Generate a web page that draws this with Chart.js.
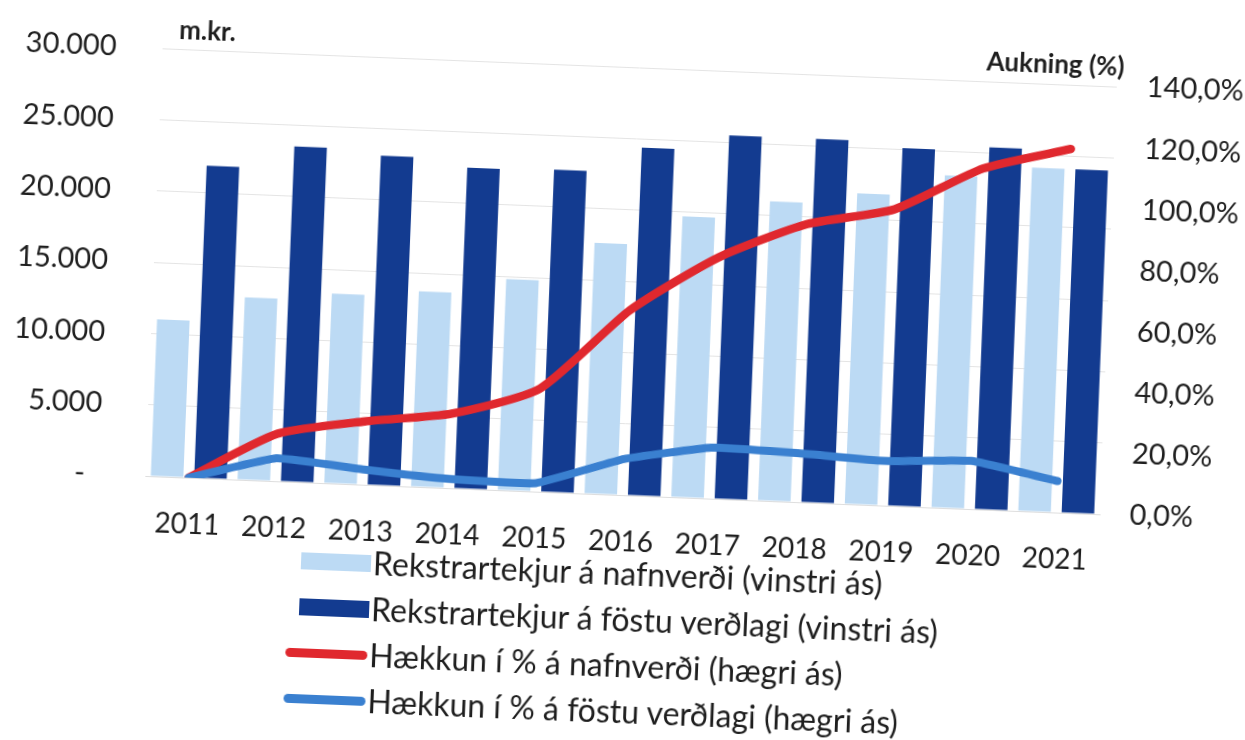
<!DOCTYPE html>
<html lang="is">
<head>
  <meta charset="UTF-8">
  <title>Rekstrartekjur 2011–2021</title>
  <style>
    body {
      margin: 0;
      background: #fff;
      font-family: Lato, "Open Sans", sans-serif;
      color: #1e1e1e;
      overflow: hidden;
    }
    /* the whole sheet sits slightly tilted */
    #sheet {
      position: relative;
      width: 1245px;
      height: 740px;
      transform: rotate(2.3deg);
      transform-origin: 622px 370px;
    }
    #chart-box {
      position: absolute;
      left: 0;
      top: 0;
      width: 1245px;
      height: 570px;
    }
    .unit {
      position: absolute;
      font-size: 26px;
      font-weight: 700;
      line-height: 30px;
    }
    #unit-left { left: 166px; top: 32px; }
    #unit-right { right: 133px; top: 31px; }
    #legend {
      position: absolute;
      left: 0;
      top: 550px;
      width: 1245px;
    }
    .legend-row {
      position: relative;
      height: 46px;
    }
    .legend-row .swatch {
      position: absolute;
      right: 866px;
    }
    .legend-row .swatch.bar {
      top: 15px;
      width: 70px;
      height: 17px;
    }
    .legend-row .swatch.line {
      top: 19px;
      width: 82px;
      height: 9px;
      border-radius: 5px;
    }
    .legend-row .text {
      position: absolute;
      left: 381px;
      top: 4px;
      font-size: 32px;
      line-height: 38px;
      white-space: nowrap;
    }
  </style>
</head>
<body>
  <div id="sheet">
    <div id="chart-box"><canvas id="revenue-chart"></canvas></div>
    <div class="unit" id="unit-left">m.kr.</div>
    <div class="unit" id="unit-right">Aukning (%)</div>
    <div id="legend"></div>
  </div>

  <script src="https://cdn.jsdelivr.net/npm/chart.js"></script>
  <script>
    // Years on the category axis
    const years = ['2011', '2012', '2013', '2014', '2015', '2016', '2017', '2018', '2019', '2020', '2021'];

    // Operating revenue, million ISK (left axis)
    const revenueNominal = [11000, 12800, 13300, 13700, 14800, 17600, 19700, 21000, 21800, 23300, 24100];
    const revenueFixed = [21900, 23500, 23100, 22500, 22600, 24400, 25500, 25500, 25100, 25400, 24100];

    // Increase since 2011, % (right axis)
    const growthNominal = [0, 15.5, 20.7, 24.4, 33.7, 60.5, 79, 91, 97, 111.5, 119];
    const growthFixed = [0, 7.5, 5, 3, 2.8, 11.8, 16.7, 16, 14.6, 15.8, 10.3];

    // Axis ranges
    const leftTicks = { min: 0, max: 30000, step: 5000 };
    const rightTicks = { min: 0, max: 140, step: 20 };

    const textColor = '#1e1e1e';
    const axisFont = { family: 'Lato', size: 28 };

    // 25000 -> "25.000", 0 -> "-"
    function formatKr(v) {
      if (v === 0) return '-\u2002';
      return String(v).replace(/\B(?=(\d{3})+(?!\d))/g, '.');
    }

    // 20 -> "20,0%"
    function formatPct(v) {
      return v.toFixed(1).replace('.', ',') + '%';
    }

    const ctx = document.getElementById('revenue-chart').getContext('2d');
    const chart = new Chart(ctx, {
      data: {
        labels: years,
        datasets: [
          {
            type: 'line',
            label: 'Hækkun í % á föstu verðlagi (hægri ás)',
            data: growthFixed,
            yAxisID: 'y1',
            borderColor: '#3a80d0',
            backgroundColor: '#3a80d0',
            borderWidth: 8,
            borderCapStyle: 'round',
            borderJoinStyle: 'round',
            pointRadius: 0,
            tension: 0.1,
            order: 0
          },
          {
            type: 'line',
            label: 'Hækkun í % á nafnverði (hægri ás)',
            data: growthNominal,
            yAxisID: 'y1',
            borderColor: '#e0282e',
            backgroundColor: '#e0282e',
            borderWidth: 8.5,
            borderCapStyle: 'round',
            borderJoinStyle: 'round',
            pointRadius: 0,
            tension: 0.2,
            order: 1
          },
          {
            type: 'bar',
            label: 'Rekstrartekjur á nafnverði (vinstri ás)',
            data: revenueNominal,
            yAxisID: 'y',
            backgroundColor: '#bcdaf4',
            categoryPercentage: 1.0,
            barPercentage: 0.75,
            order: 2
          },
          {
            type: 'bar',
            label: 'Rekstrartekjur á föstu verðlagi (vinstri ás)',
            data: revenueFixed,
            yAxisID: 'y',
            backgroundColor: '#133b90',
            categoryPercentage: 1.0,
            barPercentage: 0.75,
            order: 2
          }
        ]
      },
      options: {
        responsive: true,
        maintainAspectRatio: false,
        animation: false,
        layout: { padding: { top: 67, left: 0, right: 0, bottom: 0 } },
        plugins: {
          legend: { display: false },
          tooltip: { enabled: false }
        },
        scales: {
          x: {
            grid: { display: false, drawTicks: false },
            border: { display: true, color: '#dedede', width: 1 },
            ticks: { font: axisFont, color: textColor, padding: 30, maxRotation: 0 },
            afterFit(scale) { scale.height = 75; }
          },
          y: {
            position: 'left',
            min: leftTicks.min,
            max: leftTicks.max,
            grid: { color: '#e4e4e4', lineWidth: 1, drawTicks: false },
            border: { display: false },
            ticks: {
              stepSize: leftTicks.step,
              font: { family: 'Lato', size: 29 },
              color: textColor,
              padding: 46,
              callback: (v) => formatKr(v)
            },
            afterFit(scale) { scale.width = 150; }
          },
          y1: {
            position: 'right',
            min: rightTicks.min,
            max: rightTicks.max,
            grid: { drawOnChartArea: false, drawTicks: false },
            border: { display: false },
            ticks: {
              stepSize: rightTicks.step,
              font: { family: 'Lato', size: 29 },
              color: textColor,
              padding: 30,
              callback: (v) => formatPct(v)
            },
            afterFit(scale) { scale.width = 140; }
          }
        }
      }
    });

    // Legend rows built from the datasets: bars first, then the lines
    function buildLegend(chart) {
      const box = document.getElementById('legend');
      const ds = chart.data.datasets;
      const sequence = [2, 3, 1, 0];
      sequence.forEach((i) => {
        const row = document.createElement('div');
        row.className = 'legend-row';
        const sw = document.createElement('span');
        sw.className = 'swatch ' + (ds[i].type === 'bar' ? 'bar' : 'line');
        sw.style.background = ds[i].type === 'bar' ? ds[i].backgroundColor : ds[i].borderColor;
        const label = document.createElement('span');
        label.className = 'text';
        label.textContent = ds[i].label;
        row.appendChild(sw);
        row.appendChild(label);
        box.appendChild(row);
      });
    }
    buildLegend(chart);
  </script>
</body>
</html>
